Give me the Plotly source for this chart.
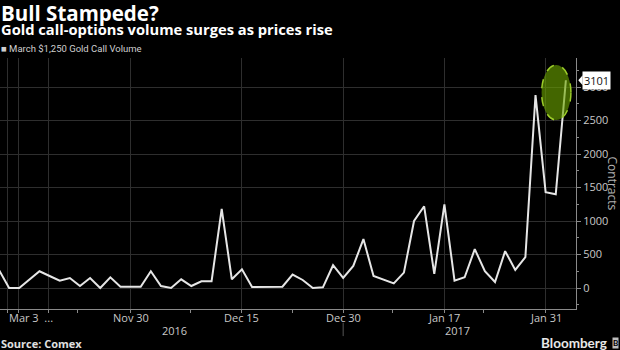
import plotly.graph_objects as go

# ---- data ----
day_index = list(range(57))
volume = [270, 0, 0, 125, 250, 180, 110, 150, 30, 150,
          0, 160, 20, 20, 20, 250, 30, 0, 130, 30,
          100, 100, 1180, 130, 280, 15, 15, 15, 20, 200,
          120, 0, 10, 340, 150, 330, 730, 180, 120, 70,
          230, 1000, 1220, 210, 1250, 110, 160, 580, 250, 90,
          550, 270, 460, 2880, 1430, 1400, 3101]
grid_positions = [0.8, 1.9, 4.85, 13, 24, 34, 44, 54]
label_positions = [3.15, 13, 24, 34, 44, 54]
tick_labels = ["Mar 3  ...", "Nov 30", "Dec 15", "Dec 30", "Jan 17", "Jan 31"]
minor_positions = [7.8, 18.9, 29, 38.9, 47.9]
year_positions = [17.3, 45.3]
year_labels = ["2016", "2017"]
y_ticks = [0, 500, 1000, 1500, 2000, 2500, 3000]
last_value = volume[-1]

fig = go.Figure()
fig.add_trace(go.Scatter(
    x=day_index, y=volume, mode="lines",
    line=dict(color="#e6e6e6", width=2),
    showlegend=False, hoverinfo="skip"))

grid = "#2e2e2e"
axc = "#8a8a8a"
tickfont = dict(family="Open Sans", size=11, color="#c8c8c8")

fig.update_layout(
    width=620, height=350,
    margin=dict(l=0, r=44, t=58, b=41),
    paper_bgcolor="#000000", plot_bgcolor="#000000",
    xaxis=dict(
        range=[0.1, 57.0], tickmode="array", tickvals=grid_positions, showticklabels=False,
        showgrid=True, gridcolor=grid, gridwidth=1, zeroline=False,
        showline=True, linecolor=axc, linewidth=1, ticks="outside", ticklen=3,
        tickcolor=axc,
        minor=dict(tickmode="array", tickvals=minor_positions, ticks="outside",
                   ticklen=3, tickcolor=axc, showgrid=False),
    ),
    yaxis=dict(
        range=[-313, 3433], side="right", tickmode="array", tickvals=y_ticks,
        showgrid=True, gridcolor=grid, gridwidth=1, zeroline=False,
        showline=True, linecolor=axc, linewidth=1, ticks="outside", ticklen=4,
        tickcolor=axc, tickfont=tickfont,
        minor=dict(dtick=250, ticks="outside", ticklen=2, tickcolor=axc, showgrid=False),
    ),
)

# highlight ellipse
fig.add_shape(type="circle", xref="x", yref="y", x0=53.6, x1=56.5, y0=2507, y1=3328,
              fillcolor="rgba(108,164,0,0.62)", line=dict(color="#9ccc2a", width=1.5, dash="dash"),
              layer="above")

# last value label with pointer
fig.add_shape(type="path", xref="paper", yref="y",
              path="M 1.004,%d L 1.0115,%d L 1.0115,%d Z" % (last_value, last_value + 75, last_value - 75),
              fillcolor="#ffffff", line=dict(width=0))
fig.add_annotation(x=1, xref="paper", y=last_value, yref="y", xanchor="left", xshift=6,
                   text="3101", showarrow=False, bgcolor="#ffffff", borderpad=1,
                   font=dict(family="Open Sans", size=11, color="#111111"))

# x tick labels and years
for pos, lab in zip(label_positions, tick_labels):
    fig.add_annotation(x=pos, xref="x", y=-0.032, yref="paper", text=lab,
                       showarrow=False, xanchor="center", yanchor="middle", font=tickfont)
for pos, lab in zip(year_positions, year_labels):
    fig.add_annotation(x=pos, xref="x", y=-0.086, yref="paper", text=lab,
                       showarrow=False, xanchor="center", yanchor="middle", font=tickfont)
fig.add_shape(type="line", xref="x", yref="paper", x0=34, x1=34, y0=-0.055, y1=-0.108,
              line=dict(color="#555555", width=1))

ann = []
ann.append(dict(x=0, y=1.181, yanchor="middle", text="<b>Bull Stampede?</b>",
                font=dict(family="Open Sans", size=20.5, color="#ffffff")))
ann.append(dict(x=0, y=1.116, yanchor="middle", text="<b>Gold call-options volume surges as prices rise</b>",
                font=dict(family="Open Sans", size=14.7, color="#ffffff")))
ann.append(dict(x=0, y=1.036, yanchor="middle", text="■ March $1,250 Gold Call Volume",
                font=dict(family="Roboto", size=9.5, color="#cfcfcf")))
ann.append(dict(x=0, y=-0.139, yanchor="middle", text="<b>Source: Comex</b>",
                font=dict(family="Open Sans", size=11, color="#e0e0e0")))
for a in ann:
    fig.add_annotation(xref="paper", yref="paper", xanchor="left", showarrow=False,
                       borderpad=0, **a)

fig.add_annotation(x=1.0625, xref="paper", y=0.5, yref="paper", text="Contracts", textangle=90,
                   showarrow=False, xanchor="center", yanchor="middle",
                   font=dict(family="Open Sans", size=12, color="#b0b0b0"))
fig.add_annotation(x=0.997, xref="paper", y=-0.137, yref="paper", text="<b>Bloomberg</b>",
                   showarrow=False, xanchor="center", yanchor="middle", borderpad=0,
                   font=dict(family="Lato", size=13.5, color="#e8e8e8"))
fig.add_annotation(x=1.068, xref="paper", y=-0.137, yref="paper", text="<b>B</b>",
                   showarrow=False, xanchor="center", yanchor="middle", bgcolor="#bdbdbd",
                   borderpad=0, font=dict(family="Lato", size=8, color="#000000"))

fig.write_html("out.html")
